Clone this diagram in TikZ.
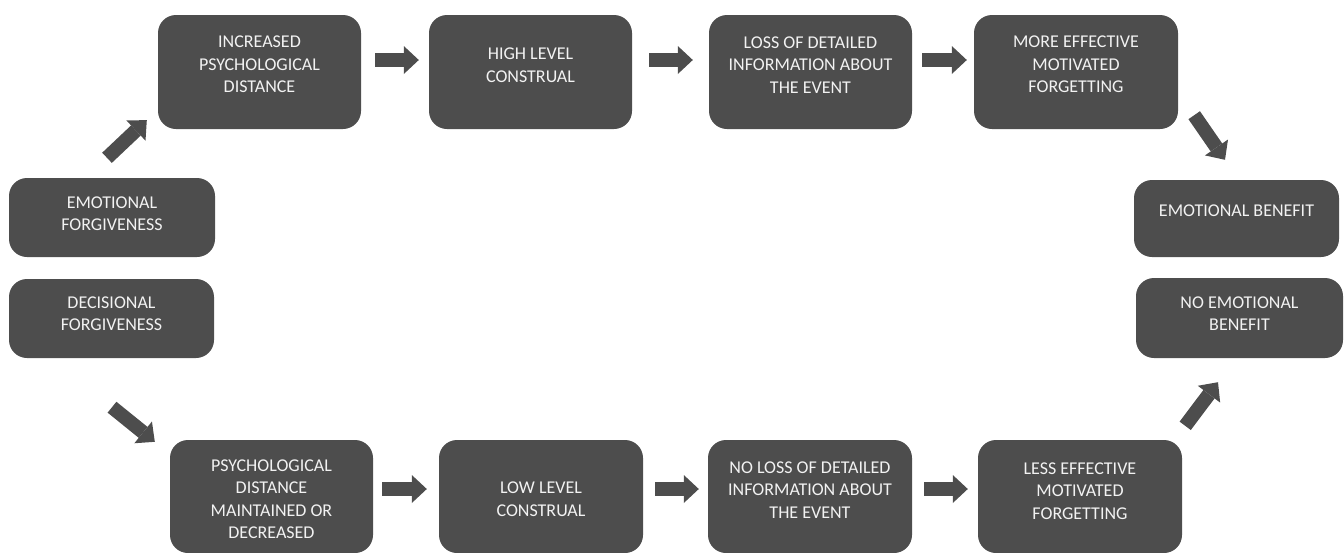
\documentclass[tikz,border=0pt]{standalone}
\usepackage{fontspec}
\setmainfont{Carlito}
\usetikzlibrary{arrows.meta,calc}
\definecolor{boxc}{HTML}{4D4D4D}
\definecolor{arrc}{HTML}{4D4D4D}
\definecolor{txtc}{HTML}{F2F2F2}
\tikzset{
  box/.style={fill=boxc, draw=none, rounded corners=18pt, inner sep=0pt},
  lbl/.style={text=txtc, align=center, inner sep=0pt, font=\fontsize{18}{22.5}\selectfont},
  blk/.style={draw=arrc, line width=14pt, line cap=butt,
    -{Triangle[length=15pt,width=28pt,line width=0pt]}},
}
\begin{document}
\begin{tikzpicture}[x=1pt,y=-1pt]
\useasboundingbox (0,0) rectangle (1344,552);
% top row
\node[box, minimum width=203pt, minimum height=114pt] (inc) at (259.5,72) {};
\node[box, minimum width=203pt, minimum height=114pt] (hlc) at (530.5,72) {};
\node[box, minimum width=203pt, minimum height=114pt] (loss) at (810.5,72) {};
\node[box, minimum width=204pt, minimum height=114pt] (mef) at (1076,72) {};
% side boxes
\node[box, minimum width=206pt, minimum height=79pt] (ef) at (112,217.5) {};
\node[box, minimum width=205pt, minimum height=79pt] (df) at (111.5,318.5) {};
\node[box, minimum width=205pt, minimum height=77pt] (eb) at (1236.5,218.5) {};
\node[box, minimum width=207pt, minimum height=80pt] (neb) at (1239.5,318) {};
% bottom row
\node[box, minimum width=203pt, minimum height=113pt] (pdm) at (271.5,496.5) {};
\node[box, minimum width=204pt, minimum height=113pt] (llc) at (541,496.5) {};
\node[box, minimum width=204pt, minimum height=113pt] (nlo) at (810,496.5) {};
\node[box, minimum width=204pt, minimum height=113pt] (lef) at (1080,496.5) {};
% labels
\node[lbl] (inc-t) at ($(inc.center)+(0,-7.3)$) {INCREASED\\PSYCHOLOGICAL\\DISTANCE};
\node[lbl] (hlc-t) at ($(hlc.center)+(0,-7)$) {HIGH LEVEL\\CONSTRUAL};
\node[lbl] (loss-t) at ($(loss.center)+(0,-7.3)$) {LOSS OF DETAILED\\INFORMATION ABOUT\\THE EVENT};
\node[lbl] (mef-t) at ($(mef.center)+(0,-7.3)$) {MORE EFFECTIVE\\MOTIVATED\\FORGETTING};
\node[lbl] (ef-t) at ($(ef.center)+(0,-4)$) {EMOTIONAL\\FORGIVENESS};
\node[lbl] (df-t) at ($(df.center)+(0,-5)$) {DECISIONAL\\FORGIVENESS};
\node[lbl] (eb-t) at ($(eb.center)+(0,-7.5)$) {EMOTIONAL BENEFIT};
\node[lbl] (neb-t) at ($(neb.center)+(0,-4.5)$) {NO EMOTIONAL\\BENEFIT};
\node[lbl] (pdm-t) at ($(pdm.center)+(0,2.5)$) {PSYCHOLOGICAL\\DISTANCE\\MAINTAINED OR\\DECREASED};
\node[lbl] (llc-t) at ($(llc.center)+(0,2.5)$) {LOW LEVEL\\CONSTRUAL};
\node[lbl] (nlo-t) at ($(nlo.center)+(0,-6.5)$) {NO LOSS OF DETAILED\\INFORMATION ABOUT\\THE EVENT};
\node[lbl] (lef-t) at ($(lef.center)+(0,-5.5)$) {LESS EFFECTIVE\\MOTIVATED\\FORGETTING};
% horizontal arrows
\draw[blk] ($(inc.east)+(14,-12)$) -- ($(hlc.west)+(-10,-12)$);
\draw[blk] ($(hlc.east)+(17,-12)$) -- ($(loss.west)+(-16,-12)$);
\draw[blk] ($(loss.east)+(10,-12)$) -- ($(mef.west)+(-7,-12)$);
\draw[blk] ($(pdm.east)+(9,-7.5)$) -- ($(llc.west)+(-12,-7.5)$);
\draw[blk] ($(llc.east)+(12,-7.5)$) -- ($(nlo.west)+(-9,-7.5)$);
\draw[blk] ($(nlo.east)+(12,-7.5)$) -- ($(lef.west)+(-10,-7.5)$);
% diagonal arrows
\draw[blk] ($(ef.north)+(-5,-20)$) -- ($(inc.south west)+(-11,-9)$);
\draw[blk] ($(df.south)+(0.5,49)$) -- ($(pdm.north west)+(-15,2)$);
\draw[blk] ($(mef.south east)+(16,-14)$) -- ($(eb.north)+(-11.5,-20)$);
\draw[blk] ($(lef.north east)+(3,-14)$) -- ($(neb.south)+(-21.5,24)$);
\end{tikzpicture}
\end{document}
